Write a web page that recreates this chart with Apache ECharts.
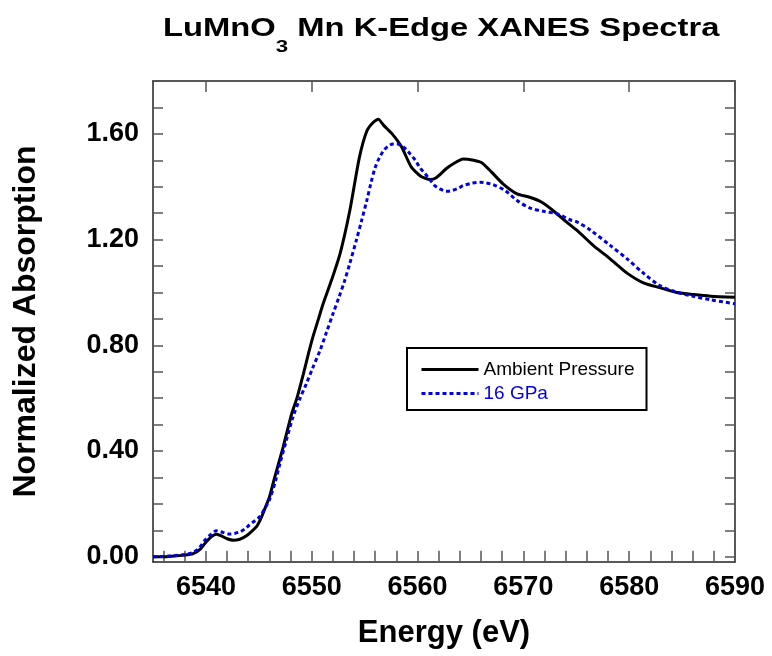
<!DOCTYPE html>
<html>
<head>
<meta charset="utf-8">
<script src="https://cdn.jsdelivr.net/npm/echarts@6/dist/echarts.min.js"></script>
<style>
  html, body { margin: 0; padding: 0; background: #fff; }
  #chart { width: 772px; height: 656px; }
</style>
</head>
<body>
<div id="chart"></div>
<script>
// Mn K-edge XANES of LuMnO3: ambient pressure vs 16 GPa
const ambientEnergy = [6535, 6536, 6537, 6538, 6538.8, 6539.5, 6540.0, 6540.5, 6541.0, 6541.5,
  6542.0, 6542.6, 6543.2, 6543.8, 6544.3, 6544.8, 6545.2, 6545.6, 6546.0, 6546.5,
  6547.3, 6548.1, 6548.6, 6549.2, 6549.7, 6550.1, 6550.6, 6551.1, 6551.9, 6552.7,
  6553.6, 6554.5, 6555.2, 6555.8, 6556.3, 6556.8, 6557.6, 6558.5, 6559.4, 6560.3,
  6561.2, 6561.8, 6562.7, 6563.5, 6564.3, 6565.3, 6566.1, 6567.0, 6568.1, 6569.4,
  6570.6, 6571.7, 6572.8, 6574.1, 6575.1, 6576.6, 6578.2, 6579.8, 6581.4, 6582.9,
  6584.5, 6586.1, 6587.7, 6590];
const ambientAbs = [0, 0, 0.003, 0.006, 0.012, 0.03, 0.055, 0.075, 0.085, 0.078,
  0.068, 0.062, 0.066, 0.078, 0.095, 0.115, 0.145, 0.185, 0.225, 0.3,
  0.415, 0.54, 0.6, 0.69, 0.77, 0.83, 0.895, 0.96, 1.05, 1.15,
  1.31, 1.51, 1.61, 1.643, 1.655, 1.632, 1.6, 1.55, 1.475, 1.44,
  1.427, 1.435, 1.468, 1.49, 1.505, 1.5, 1.49, 1.455, 1.41, 1.373,
  1.36, 1.342, 1.31, 1.266, 1.234, 1.178, 1.127, 1.073, 1.035, 1.018,
  1.0, 0.992, 0.986, 0.982];

const gpaEnergy = [6535, 6536, 6537, 6538, 6538.8, 6539.4, 6539.9, 6540.5, 6541.0, 6541.6,
  6542.2, 6542.7, 6543.2, 6543.7, 6544.1, 6544.6, 6545.1, 6545.6, 6546.0, 6546.6,
  6547.0, 6547.6, 6548.2, 6548.9, 6549.5, 6550.1, 6550.8, 6551.4, 6552.0, 6552.6,
  6553.1, 6553.6, 6554.2, 6554.7, 6555.2, 6555.6, 6556.0, 6556.4, 6556.8, 6557.2,
  6557.7, 6558.1, 6558.5, 6558.9, 6559.3, 6559.8, 6560.2, 6560.7, 6561.2, 6561.6,
  6562.1, 6562.7, 6563.1, 6563.8, 6564.3, 6565.1, 6565.9, 6566.5, 6567.2, 6568.3,
  6569.4, 6570.6, 6571.9, 6573.2, 6574.4, 6575.1, 6576.3, 6578.2, 6579.8, 6581.4,
  6582.9, 6584.5, 6586.1, 6587.7, 6590];
const gpaAbs = [0, 0.001, 0.004, 0.008, 0.016, 0.035, 0.062, 0.085, 0.098, 0.092,
  0.086, 0.088, 0.094, 0.105, 0.12, 0.135, 0.152, 0.185, 0.215, 0.29,
  0.353, 0.44, 0.525, 0.6, 0.655, 0.715, 0.782, 0.85, 0.918, 0.985,
  1.043, 1.11, 1.195, 1.27, 1.347, 1.415, 1.473, 1.51, 1.537, 1.553,
  1.562, 1.562, 1.555, 1.542, 1.524, 1.5, 1.473, 1.45, 1.425, 1.405,
  1.392, 1.383, 1.384, 1.393, 1.404, 1.413, 1.417, 1.414, 1.407, 1.385,
  1.348, 1.32, 1.307, 1.297, 1.275, 1.266, 1.237, 1.178, 1.127, 1.071,
  1.026, 1.001, 0.985, 0.972, 0.957];

// Axis ticks and labels
const xMajorTicks = [6540, 6550, 6560, 6570, 6580, 6590];
const xMinorTicks = [6536, 6538, 6542, 6544, 6546, 6548, 6552, 6554, 6556, 6558,
  6562, 6564, 6566, 6568, 6572, 6574, 6576, 6578, 6582, 6584, 6586, 6588];
const yTicks = [0, 0.1, 0.2, 0.3, 0.4, 0.5, 0.6, 0.7, 0.8, 0.9,
  1.0, 1.1, 1.2, 1.3, 1.4, 1.5, 1.6, 1.7, 1.8];
const yLabelValues = [0, 0.4, 0.8, 1.2, 1.6];

const seriesNames = ['Ambient Pressure', '16 GPa'];
const FONT = '"Liberation Sans", Arial, Helvetica, sans-serif';
const BLUE = '#0000e0';
const X_MIN = 6535, X_MAX = 6590, Y_MIN = -0.02, Y_MAX = 1.8;

const frameLine = { show: true, onZero: false, lineStyle: { color: '#222', width: 1.5 } };
const tickStyle = { color: '#555', width: 1.5 };

function xAxisDef(position, ticks, len, withLabels) {
  return {
    type: 'value', position, min: X_MIN, max: X_MAX,
    axisLine: withLabels !== null ? frameLine : { show: false },
    axisTick: { show: true, inside: true, length: len, customValues: ticks, lineStyle: tickStyle },
    axisLabel: withLabels ? {
      show: true, customValues: xMajorTicks, formatter: v => String(v),
      fontFamily: FONT, fontWeight: 'bold', fontSize: 27, color: '#000', margin: 12
    } : { show: false },
    splitLine: { show: false }
  };
}

function yAxisDef(position, withLabels) {
  return {
    type: 'value', position, min: Y_MIN, max: Y_MAX,
    axisLine: frameLine,
    axisTick: { show: true, inside: true, length: 10, customValues: yTicks, lineStyle: tickStyle },
    axisLabel: withLabels ? {
      show: true, customValues: yLabelValues, formatter: v => v.toFixed(2),
      fontFamily: FONT, fontWeight: 'bold', fontSize: 27, color: '#000', margin: 14
    } : { show: false },
    splitLine: { show: false }
  };
}

const xBottom = xAxisDef('bottom', xMajorTicks, 11, true);
xBottom.name = 'Energy (eV)';
xBottom.nameLocation = 'middle';
xBottom.nameGap = 56;
xBottom.nameTextStyle = { fontFamily: FONT, fontWeight: 'bold', fontSize: 31, color: '#000' };

const yLeft = yAxisDef('left', true);
yLeft.name = 'Normalized Absorption';
yLeft.nameLocation = 'middle';
yLeft.nameGap = 111;
yLeft.nameTextStyle = { fontFamily: FONT, fontWeight: 'bold', fontSize: 32, color: '#000' };

const chart = echarts.init(document.getElementById('chart'), null, { renderer: 'canvas' });
chart.setOption({
  backgroundColor: '#fff',
  animation: false,
  grid: { left: 153, right: 37, top: 81, bottom: 94 },
  graphic: [{
    type: 'text', x: 163, y: 2, scaleX: 1.31,
    style: {
      text: '{a|LuMnO}{s|3}{a| Mn K-Edge XANES Spectra}',
      rich: {
        a: { fontFamily: FONT, fontWeight: 'bold', fontSize: 25, lineHeight: 54, fill: '#000', color: '#000' },
        s: { fontFamily: FONT, fontWeight: 'bold', fontSize: 17, lineHeight: 17, verticalAlign: 'bottom', fill: '#000', color: '#000' }
      }
    }
  }],
  legend: {
    orient: 'vertical', left: 407, top: 348,
    padding: [11, 12, 6, 13],
    itemWidth: 57, itemHeight: 14, itemGap: 3,
    borderColor: '#000', borderWidth: 2, borderRadius: 0,
    backgroundColor: '#fff',
    itemStyle: { opacity: 0 },
    lineStyle: { width: 3 },
    textStyle: { fontFamily: FONT, fontSize: 19, lineHeight: 21 },
    data: [
      { name: seriesNames[0], textStyle: { color: '#000' } },
      { name: seriesNames[1], textStyle: { color: BLUE } }
    ]
  },
  xAxis: [
    xBottom,
    xAxisDef('bottom', xMinorTicks, 6, null),
    xAxisDef('top', xMajorTicks, 11, false),
    xAxisDef('top', xMinorTicks, 6, null)
  ],
  yAxis: [yLeft, yAxisDef('right', false)],
  series: [
    {
      name: seriesNames[0], type: 'line', xAxisIndex: 0, yAxisIndex: 0,
      data: ambientEnergy.map((e, i) => [e, ambientAbs[i]]),
      showSymbol: false, symbol: 'none', smooth: 0.2,
      lineStyle: { color: '#000', width: 3 }, itemStyle: { color: '#000' }
    },
    {
      name: seriesNames[1], type: 'line', xAxisIndex: 0, yAxisIndex: 0,
      data: gpaEnergy.map((e, i) => [e, gpaAbs[i]]),
      showSymbol: false, symbol: 'none', smooth: 0.3,
      lineStyle: { color: BLUE, width: 3, type: [4, 3] }, itemStyle: { color: BLUE }
    }
  ]
});
</script>
</body>
</html>
